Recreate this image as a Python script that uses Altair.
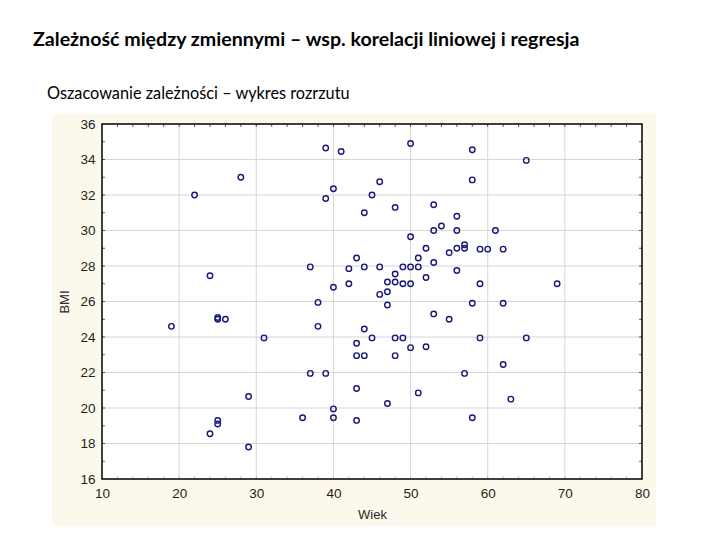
import altair as alt
import pandas as pd

title_text = "Zależność między zmiennymi – wsp. korelacji liniowej i regresja"
subtitle_text = "Oszacowanie zależności – wykres rozrzutu"
x_title = "Wiek"
y_title = "BMI"

wiek = [19, 22, 24, 25, 25, 26, 24, 25, 25, 28, 29, 29, 31, 36, 37, 37, 38, 38, 39, 39,
        39, 40, 40, 40, 40, 41, 42, 42, 43, 43, 43, 43, 43, 44, 44, 44, 44, 45, 45, 46,
        46, 46, 47, 47, 47, 47, 48, 48, 48, 48, 48, 49, 49, 49, 50, 50, 50, 50, 50, 51,
        51, 51, 52, 52, 52, 53, 53, 53, 53, 54, 55, 55, 56, 56, 56, 56, 57, 57, 57, 58,
        58, 58, 58, 59, 59, 59, 60, 61, 62, 62, 62, 63, 65, 65, 69]
bmi = [24.6, 32.0, 27.45, 25.1, 25.0, 25.0, 18.55, 19.3, 19.1, 33.0, 20.65, 17.8, 23.95,
       19.45, 27.95, 21.95, 25.95, 24.6, 34.65, 31.8, 21.95, 32.35, 26.8, 19.95, 19.45,
       34.45, 27.85, 27.0, 28.45, 23.65, 22.95, 21.1, 19.3, 31.0, 27.95, 24.45, 22.95,
       32.0, 23.95, 32.75, 27.95, 26.4, 27.1, 26.55, 25.8, 20.25, 31.3, 27.55, 27.1,
       23.95, 22.95, 27.95, 27.0, 23.95, 34.9, 29.65, 27.95, 27.0, 23.4, 28.45, 27.95,
       20.85, 29.0, 27.35, 23.45, 31.45, 30.0, 28.2, 25.3, 30.25, 28.75, 25.0, 30.8,
       30.0, 29.0, 27.75, 29.2, 29.0, 21.95, 34.55, 32.85, 25.9, 19.45, 28.95, 27.0,
       23.95, 28.95, 30.0, 28.95, 25.9, 22.45, 20.5, 33.95, 23.95, 27.0]

x_major = [10, 20, 30, 40, 50, 60, 70, 80]
y_major = [16, 18, 20, 22, 24, 26, 28, 30, 32, 34, 36]
x_grid = [20, 30, 40, 50, 60, 70]
y_grid = [18, 20, 22, 24, 26, 28, 30, 32, 34]
x_minor = list(range(12, 80, 2))
y_minor = list(range(17, 36, 1))

W, H = 540, 355
FONT = "Liberation Sans"

xs = alt.Scale(domain=[10, 80], nice=False, zero=False)
ys = alt.Scale(domain=[16, 36], nice=False, zero=False)

x_axis = alt.Axis(values=x_major, grid=False, ticks=False, domain=False,
                  labelFont=FONT, labelFontSize=13.5, labelColor="#1e1e1e",
                  labelPadding=7, titleFont=FONT, titleFontSize=13,
                  titleFontWeight="normal", titleColor="#2a2a2a",
                  titlePadding=9, zindex=1, labelFlush=False)
y_axis = alt.Axis(values=y_major, grid=False, ticks=False, domain=False,
                  labelFont=FONT, labelFontSize=13.5, labelColor="#1e1e1e",
                  labelPadding=7, titleFont=FONT, titleFontSize=13,
                  titleFontWeight="normal", titleColor="#2a2a2a",
                  titlePadding=8, zindex=1, labelFlush=False)

df = pd.DataFrame({"Wiek": wiek, "BMI": bmi})
one = pd.DataFrame({"k": [0]})

bg = alt.Chart(one).mark_rect(fill="#FDF8EC", clip=False).encode(
    x=alt.value(-50), x2=alt.value(W + 14), y=alt.value(-10), y2=alt.value(H + 47))
plotbg = alt.Chart(one).mark_rect(fill="white").encode(
    x=alt.value(0), x2=alt.value(W), y=alt.value(0), y2=alt.value(H))

XE = alt.X("Wiek:Q", scale=xs, title=x_title, axis=x_axis)
YE = alt.Y("BMI:Q", scale=ys, title=y_title, axis=y_axis)

vgrid = alt.Chart(pd.DataFrame({"Wiek": x_grid})).mark_rule(color="#d6d6d6", strokeWidth=1).encode(
    x=XE, y=alt.value(0), y2=alt.value(H))
hgrid = alt.Chart(pd.DataFrame({"BMI": y_grid})).mark_rule(color="#d6d6d6", strokeWidth=1).encode(
    y=YE, x=alt.value(0), x2=alt.value(W))

xm = pd.DataFrame({"Wiek": x_minor})
ym = pd.DataFrame({"BMI": y_minor})
tick_c = "#333333"
t_top = alt.Chart(xm).mark_rule(color=tick_c, strokeWidth=0.8).encode(
    x=XE, y=alt.value(0), y2=alt.value(3))
t_bot = alt.Chart(xm).mark_rule(color="#bbbbbb", strokeWidth=0.8).encode(
    x=XE, y=alt.value(H - 3), y2=alt.value(H))
t_left = alt.Chart(ym).mark_rule(color=tick_c, strokeWidth=0.8).encode(
    y=YE, x=alt.value(0), x2=alt.value(3))
t_right = alt.Chart(ym).mark_rule(color=tick_c, strokeWidth=0.8).encode(
    y=YE, x=alt.value(W - 3), x2=alt.value(W))

points = alt.Chart(df).mark_point(shape="circle", filled=False, color="#18187a",
                                  size=30, strokeWidth=1.4, opacity=1).encode(
    x=XE, y=YE)

frame = alt.Chart(one).mark_rect(fill=None, stroke="black", strokeWidth=1.5).encode(
    x=alt.value(0), x2=alt.value(W), y=alt.value(0), y2=alt.value(H))

title = alt.Chart(pd.DataFrame({"t": [title_text]})).mark_text(
    align="left", baseline="middle", font="Lato", fontSize=19.6, fontWeight="bold",
    color="black").encode(text="t:N", x=alt.value(-69), y=alt.value(-84))
subtitle = alt.Chart(pd.DataFrame({"t": [subtitle_text]})).mark_text(
    align="left", baseline="middle", font="Lato", fontSize=16.3, fontWeight="normal",
    color="black").encode(text="t:N", x=alt.value(-55), y=alt.value(-30))

chart = alt.layer(bg, plotbg, vgrid, hgrid, t_top, t_bot, t_left, t_right, points,
                  frame, title, subtitle).properties(
    width=W, height=H,
    autosize=alt.AutoSizeParams(type="none"),
    padding={"left": 94, "top": 116, "right": 70, "bottom": 53},
    background="white",
).configure_view(stroke=None)

chart.save("out.html", embed_options={"renderer": "svg", "actions": False})
